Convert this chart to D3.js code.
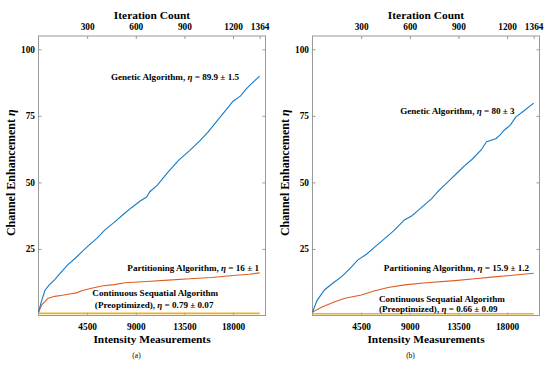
<!DOCTYPE html>
<html lang="en">
<head>
<meta charset="UTF-8">
<title>Channel Enhancement</title>
<style>
  body { margin: 0; background: #fff; }
  .tick line { stroke: #9a9a9a; }
</style>
</head>
<body>
<svg width="550" height="365"></svg>
<script src="https://d3js.org/d3.v7.min.js"></script>
<script>

// ticks
var measurementTicks = [4500, 9000, 13500, 18000];
var iterationTicks = [300, 600, 900, 1200, 1364];
var enhancementTicks = [25, 50, 75, 100];

// panel (a) series: [intensity measurements, eta]
var geneticA = [[0,1.2],[250,5],[600,9.5],[1000,11.5],[1500,13.5],[2000,15.8],[2700,19],[3400,21.5],[4300,25],[4700,26.5],
  [5400,29],[6100,32],[7000,35],[8000,38.5],[8600,40.5],[9400,43],[10000,44.5],[10300,46.5],[11000,49],[11900,53.5],
  [13000,58.5],[14000,62],[14900,65.5],[15700,69],[16500,73],[17200,76.5],[18000,80.5],[18700,82.5],[19200,85],[19800,87.5],[20460,89.9]];
var partitionA = [[0,1.2],[300,4],[900,6.5],[1500,7.2],[2200,7.6],[3000,8.2],[3500,8.5],[4000,9.3],[5000,10.3],[6000,11.2],
  [7000,11.6],[8000,12.3],[10000,12.8],[12000,13.3],[14000,13.8],[16000,14.3],[18000,15],[19500,15.5],[20460,16]];
var continuousA = [[0,0.79],[20460,0.79]];

// panel (b) series
var geneticB = [[0,1.2],[400,5.5],[1100,9.6],[1900,12.2],[2700,14.6],[3500,17.8],[4200,20.9],[5000,23],[5800,25.9],[6700,29],
  [7500,31.8],[8500,35.9],[9200,37.5],[9800,39.6],[10200,41],[11000,43.8],[11700,47],[12600,50.5],[13500,54],[14000,56],
  [14800,58.8],[15600,62.2],[16100,65.3],[17000,66.5],[17400,68],[17700,69.5],[18300,71.5],[18800,74.5],[19600,77],[20460,79.8]];
var partitionB = [[0,1.2],[400,2.2],[940,3.3],[2060,5.2],[3000,6.5],[4520,7.7],[5760,9.3],[7000,10.5],[8540,11.5],
  [10500,12.3],[13170,13.1],[15000,13.8],[16560,14.4],[18500,15.1],[20460,15.9]];
var continuousB = [[0,0.66],[20460,0.66]];

var labelsA = { genetic: "89.9 \u00b1 1.5", partition: "16 \u00b1 1", continuous: "0.79 \u00b1 0.07" };
var labelsB = { genetic: "80 \u00b1 3", partition: "15.9 \u00b1 1.2", continuous: "0.66 \u00b1 0.09" };

var svg = d3.select("svg")
  .style("font-family", "'Liberation Serif', 'Times New Roman', serif")
  .style("font-weight", "bold");
var margin = {top: 36, left: 38.5, width: 227, height: 279.5};

var x = d3.scaleLinear().domain([0, 21000]).range([0, margin.width]);
var xTop = d3.scaleLinear().domain([0, 1400]).range([0, margin.width]);
var y = d3.scaleLinear().domain([0, 105]).range([margin.height, 0]);

var line = d3.line().x(function(d) { return x(d[0]); }).y(function(d) { return y(d[1]); });
var plain = d3.format("d");

function etaText(sel, pre, value) {
  sel.append("tspan").text(pre);
  sel.append("tspan").style("font-style", "italic").text("\u03b7");
  if (value) sel.append("tspan").text(" = " + value);
}

function drawPanel(offsetX, genetic, partition, continuous, labels, letter, b) {
  var g = svg.append("g").attr("transform", "translate(" + (offsetX + margin.left) + "," + margin.top + ")");

  var bottom = g.append("g").attr("transform", "translate(0," + margin.height + ")")
    .call(d3.axisBottom(x).tickValues(measurementTicks).tickFormat(plain).tickSizeInner(-3).tickSizeOuter(0).tickPadding(8));
  var top = g.append("g")
    .call(d3.axisTop(xTop).tickValues(iterationTicks).tickFormat(plain).tickSizeInner(-3).tickSizeOuter(0).tickPadding(6));
  var left = g.append("g")
    .call(d3.axisLeft(y).tickValues(enhancementTicks).tickFormat(plain).tickSizeInner(-3).tickSizeOuter(0).tickPadding(3.5));
  var right = g.append("g").attr("transform", "translate(" + margin.width + ",0)")
    .call(d3.axisRight(y).tickValues(enhancementTicks).tickSizeInner(-3).tickSizeOuter(0).tickFormat(""));

  [bottom, top, left, right].forEach(function(a) {
    a.select(".domain").remove();
    a.attr("font-family", null).attr("font-size", null);
    a.selectAll("text").attr("font-size", 9.3).attr("fill", "#000");
  });

  g.append("rect").attr("width", margin.width).attr("height", margin.height)
    .attr("fill", "none").attr("stroke", "#9a9a9a").attr("stroke-width", 1);

  g.append("path").datum(continuous).attr("d", line)
    .attr("fill", "none").attr("stroke", "#EDB120").attr("stroke-width", 1.6);
  g.append("path").datum(partition).attr("d", line)
    .attr("fill", "none").attr("stroke", "#DF5C22").attr("stroke-width", 1.1);
  g.append("path").datum(genetic).attr("d", line)
    .attr("fill", "none").attr("stroke", "#157BC6").attr("stroke-width", 1.1);

  // axis titles
  g.append("text").attr("x", margin.width / 2).attr("y", -17).attr("text-anchor", "middle")
    .attr("font-size", 11.4).text("Iteration Count");
  g.append("text").attr("x", margin.width / 2).attr("y", margin.height + 27.5).attr("text-anchor", "middle")
    .attr("font-size", 11.4).text("Intensity Measurements");
  var yl = g.append("text").attr("transform", "translate(-23.5," + (margin.height / 2 - 3) + ") rotate(-90)")
    .attr("text-anchor", "middle").attr("font-size", 12);
  etaText(yl, "Channel Enhancement ", "");

  g.append("text").attr("x", margin.width / 2 - 15.5).attr("y", margin.height + 42.5).attr("text-anchor", "middle")
    .attr("font-size", 7.5).style("font-weight", "normal").text("(" + letter + ")");

  // annotations
  var fs = 9.1;
  if (!b) {
    etaText(g.append("text").attr("x", x(18550)).attr("y", 44).attr("text-anchor", "end").attr("font-size", fs),
      "Genetic Algorithm, ", labels.genetic);
    etaText(g.append("text").attr("x", x(20400)).attr("y", 235).attr("text-anchor", "end").attr("font-size", fs),
      "Partitioning Algorithm, ", labels.partition);
    g.append("text").attr("x", x(10800)).attr("y", 260).attr("text-anchor", "middle").attr("font-size", fs)
      .text("Continuous Sequatial Algorithm");
    etaText(g.append("text").attr("x", x(10700)).attr("y", 272).attr("text-anchor", "middle").attr("font-size", fs),
      "(Preoptimized), ", labels.continuous);
  } else {
    etaText(g.append("text").attr("x", x(18700)).attr("y", 78).attr("text-anchor", "end").attr("font-size", fs),
      "Genetic Algorithm, ", labels.genetic);
    etaText(g.append("text").attr("x", x(20040)).attr("y", 235).attr("text-anchor", "end").attr("font-size", fs),
      "Partitioning Algorithm, ", labels.partition);
    g.append("text").attr("x", x(6150)).attr("y", 265.5).attr("font-size", fs)
      .text("Continuous Sequatial Algorithm");
    etaText(g.append("text").attr("x", x(6150)).attr("y", 275.5).attr("font-size", fs),
      "(Preoptimized), ", labels.continuous);
  }
}

drawPanel(0, geneticA, partitionA, continuousA, labelsA, "a", false);
drawPanel(274, geneticB, partitionB, continuousB, labelsB, "b", true);

</script>
</body>
</html>
